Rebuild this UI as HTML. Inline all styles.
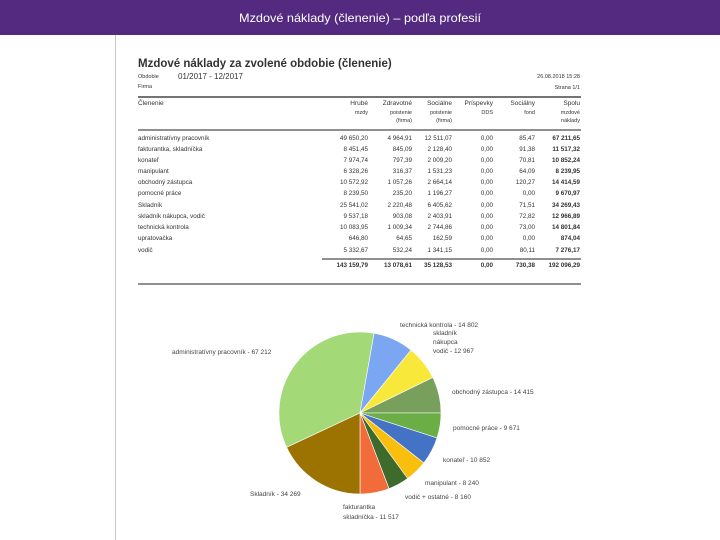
<!DOCTYPE html>
<html><head><meta charset="utf-8"><style>
html,body{margin:0;padding:0;background:#fff;width:720px;height:540px;overflow:hidden}
svg{display:block}
text{font-family:"Liberation Sans",sans-serif}
</style></head><body>
<svg width="720" height="540" viewBox="0 0 720 540" xmlns="http://www.w3.org/2000/svg">
<rect x="0" y="0" width="720" height="35" fill="#532a80"/>
<text x="360" y="22" text-anchor="middle" fill="#fff" font-size="12" textLength="242" lengthAdjust="spacingAndGlyphs">Mzdové náklady (členenie) – podľa profesií</text>
<line x1="115.5" y1="35" x2="115.5" y2="540" stroke="#c8c8c8" stroke-width="1"/>

<g fill="#333">
<text x="138" y="67" font-size="11.5" font-weight="bold">Mzdové náklady za zvolené obdobie (členenie)</text>
<text x="138" y="78" font-size="5.5">Obdobie</text>
<text x="178" y="79" font-size="8">01/2017 - 12/2017</text>
<text x="138" y="88" font-size="5.5">Firma</text>
<text x="580" y="78" font-size="5.5" text-anchor="end">26.08.2018 15:28</text>
<text x="580" y="89" font-size="5.5" text-anchor="end">Strana 1/1</text>
</g>
<line x1="138" y1="97" x2="581" y2="97" stroke="#222" stroke-width="1.2"/>
<g fill="#333" font-size="6.5" text-anchor="end">
<text x="368" y="105">Hrubé</text><text x="368" y="114" font-size="5.5">mzdy</text>
<text x="412" y="105">Zdravotné</text><text x="412" y="114" font-size="5.5">poistenie</text><text x="412" y="122" font-size="5.5">(firma)</text>
<text x="452" y="105">Sociálne</text><text x="452" y="114" font-size="5.5">poistenie</text><text x="452" y="122" font-size="5.5">(firma)</text>
<text x="493" y="105">Príspevky</text><text x="493" y="114" font-size="5.5">DDS</text>
<text x="535" y="105">Sociálny</text><text x="535" y="114" font-size="5.5">fond</text>
<text x="580" y="105">Spolu</text><text x="580" y="114" font-size="5.5">mzdové</text><text x="580" y="122" font-size="5.5">náklady</text>
</g>
<line x1="138" y1="130" x2="581" y2="130" stroke="#222" stroke-width="1"/>
<text x="138" y="105" fill="#333" font-size="6.5">Členenie</text>
<g fill="#333" font-size="6.3">
<g text-anchor="start">
<text x="138" y="140">administratívny pracovník</text>
<text x="138" y="151">fakturantka, skladníčka</text>
<text x="138" y="162">konateľ</text>
<text x="138" y="173">manipulant</text>
<text x="138" y="184">obchodný zástupca</text>
<text x="138" y="195">pomocné práce</text>
<text x="138" y="207">Skladník</text>
<text x="138" y="218">skladník nákupca, vodič</text>
<text x="138" y="229">technická kontrola</text>
<text x="138" y="240">upratovačka</text>
<text x="138" y="252">vodič</text>
</g>
<g text-anchor="end">
<text x="368" y="140">49 650,20</text><text x="412" y="140">4 964,91</text><text x="452" y="140">12 511,07</text><text x="493" y="140">0,00</text><text x="535" y="140">85,47</text><text x="580" y="140" font-weight="bold">67 211,65</text>
<text x="368" y="151">8 451,45</text><text x="412" y="151">845,09</text><text x="452" y="151">2 128,40</text><text x="493" y="151">0,00</text><text x="535" y="151">91,38</text><text x="580" y="151" font-weight="bold">11 517,32</text>
<text x="368" y="162">7 974,74</text><text x="412" y="162">797,39</text><text x="452" y="162">2 009,20</text><text x="493" y="162">0,00</text><text x="535" y="162">70,81</text><text x="580" y="162" font-weight="bold">10 852,24</text>
<text x="368" y="173">6 328,26</text><text x="412" y="173">316,37</text><text x="452" y="173">1 531,23</text><text x="493" y="173">0,00</text><text x="535" y="173">64,09</text><text x="580" y="173" font-weight="bold">8 239,95</text>
<text x="368" y="184">10 572,92</text><text x="412" y="184">1 057,26</text><text x="452" y="184">2 664,14</text><text x="493" y="184">0,00</text><text x="535" y="184">120,27</text><text x="580" y="184" font-weight="bold">14 414,59</text>
<text x="368" y="195">8 239,50</text><text x="412" y="195">235,20</text><text x="452" y="195">1 196,27</text><text x="493" y="195">0,00</text><text x="535" y="195">0,00</text><text x="580" y="195" font-weight="bold">9 670,97</text>
<text x="368" y="207">25 541,02</text><text x="412" y="207">2 220,48</text><text x="452" y="207">6 405,62</text><text x="493" y="207">0,00</text><text x="535" y="207">71,51</text><text x="580" y="207" font-weight="bold">34 269,43</text>
<text x="368" y="218">9 537,18</text><text x="412" y="218">903,08</text><text x="452" y="218">2 403,91</text><text x="493" y="218">0,00</text><text x="535" y="218">72,82</text><text x="580" y="218" font-weight="bold">12 966,89</text>
<text x="368" y="229">10 083,95</text><text x="412" y="229">1 009,34</text><text x="452" y="229">2 744,86</text><text x="493" y="229">0,00</text><text x="535" y="229">73,00</text><text x="580" y="229" font-weight="bold">14 801,84</text>
<text x="368" y="240">646,80</text><text x="412" y="240">64,65</text><text x="452" y="240">162,59</text><text x="493" y="240">0,00</text><text x="535" y="240">0,00</text><text x="580" y="240" font-weight="bold">874,04</text>
<text x="368" y="252">5 332,67</text><text x="412" y="252">532,24</text><text x="452" y="252">1 341,15</text><text x="493" y="252">0,00</text><text x="535" y="252">80,11</text><text x="580" y="252" font-weight="bold">7 276,17</text>
<g font-weight="bold"><text x="368" y="267">143 159,79</text><text x="412" y="267">13 078,61</text><text x="452" y="267">35 128,53</text><text x="493" y="267">0,00</text><text x="535" y="267">730,38</text><text x="580" y="267">192 096,29</text></g>
</g>
</g>
<line x1="322" y1="259" x2="581" y2="259" stroke="#222" stroke-width="1"/>
<line x1="138" y1="284" x2="581" y2="284" stroke="#222" stroke-width="1"/>

<g stroke="#fff" stroke-width="0.6">
<path d="M360 413 L286.6 447.3 A81 81 0 0 1 374.1 333.2 Z" fill="#a3d977"/>
<path d="M360 413 L374.1 333.2 A81 81 0 0 1 411 350.1 Z" fill="#7ba7f2"/>
<path d="M360 413 L411 350.1 A81 81 0 0 1 432.8 377.5 Z" fill="#f8e83a"/>
<path d="M360 413 L432.8 377.5 A81 81 0 0 1 441 413 Z" fill="#78a05c"/>
<path d="M360 413 L441 413 A81 81 0 0 1 437 438 Z" fill="#6aae45"/>
<path d="M360 413 L437 438 A81 81 0 0 1 423.8 462.9 Z" fill="#4472c4"/>
<path d="M360 413 L423.8 462.9 A81 81 0 0 1 407.6 478.5 Z" fill="#f9bf0c"/>
<path d="M360 413 L407.6 478.5 A81 81 0 0 1 389 488.6 Z" fill="#3e6b2c"/>
<path d="M360 413 L389 488.6 A81 81 0 0 1 360 494 Z" fill="#f26b3a"/>
<path d="M360 413 L360 494 A81 81 0 0 1 286.6 447.3 Z" fill="#9c7200"/>
</g>
<g fill="#444" font-size="6.5">
<text x="400" y="327">technická kontrola -  14 802</text>
<text x="433" y="335">skladník</text>
<text x="433" y="344">nákupca</text>
<text x="433" y="353">vodič -  12 967</text>
<text x="452" y="394">obchodný zástupca -  14 415</text>
<text x="453" y="430">pomocné práce -  9 671</text>
<text x="443" y="462">konateľ -  10 852</text>
<text x="425" y="485">manipulant -  8 240</text>
<text x="405" y="499">vodič + ostatné -  8 160</text>
<text x="343" y="509">fakturantka</text>
<text x="343" y="519">skladníčka -  11 517</text>
<text x="250" y="496">Skladník -  34 269</text>
<text x="172" y="354">administratívny pracovník -  67 212</text>
</g>
</svg>
</body></html>
